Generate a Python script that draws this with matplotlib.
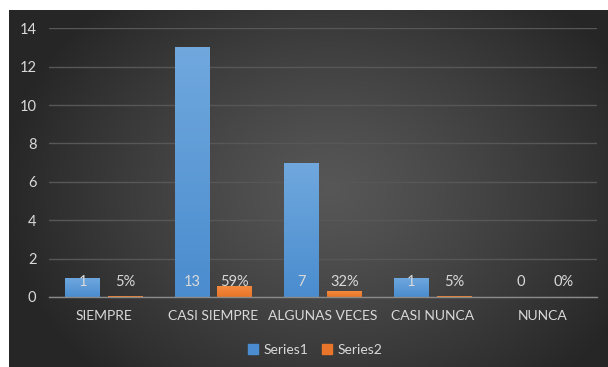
import numpy as np
import matplotlib.pyplot as plt
from matplotlib.patches import Rectangle

categorias = ["SIEMPRE", "CASI SIEMPRE", "ALGUNAS VECES", "CASI NUNCA", "NUNCA"]
series1 = [1, 13, 7, 1, 0]
series2 = [0.05, 0.59, 0.32, 0.05, 0.0]
etiquetas1 = ["1", "13", "7", "1", "0"]
etiquetas2 = ["5%", "59%", "32%", "5%", "0%"]
yticks = [0, 2, 4, 6, 8, 10, 12, 14]

plt.rcParams['font.family'] = ['Lato', 'DejaVu Sans']
gris_texto = "#d9d9d9"


def fondo(fig):
    # fondo oscuro con degradado radial, borde blanco arriba e izquierda
    W, H = 608, 367
    yy, xx = np.mgrid[0:H, 0:W]
    cx, cy = 330, 190
    r = np.sqrt(((xx - cx) / 330.0) ** 2 + ((yy - cy) / 260.0) ** 2)
    r = np.clip(r, 0, 1)
    v = 0.34 - (0.34 - 0.15) * r ** 1.2
    img = np.dstack([v, v, v])
    img[:10, :, :] = 1.0
    img[:, :9, :] = 1.0
    bg = fig.add_axes([0, 0, 1, 1], zorder=-5)
    bg.imshow(img, aspect='auto', extent=[0, 1, 0, 1], origin='upper')
    bg.axis('off')


def barra_degradado(ax, x, ancho, alto, claro, oscuro):
    if alto <= 0:
        return
    rect = Rectangle((x - ancho / 2, 0), ancho, alto, facecolor='none',
                     edgecolor='none')
    ax.add_patch(rect)
    grad = np.linspace(0, 1, 64).reshape(-1, 1)
    c1 = np.array(claro)
    c2 = np.array(oscuro)
    img = c2[None, None, :] * (1 - grad[..., None]) + c1[None, None, :] * grad[..., None]
    im = ax.imshow(img, extent=[x - ancho / 2, x + ancho / 2, 0, alto],
                   origin='lower', aspect='auto', zorder=3)
    im.set_clip_path(rect)


def main():
    fig = plt.figure(figsize=(6.08, 3.67), dpi=100)
    fondo(fig)

    ax = fig.add_axes([49 / 608, 70 / 367, 548 / 608, (297 - 28.3) / 367])
    ax.set_facecolor('none')

    x = np.arange(len(categorias))
    ancho = 0.315
    desp = 0.194

    azul_claro = (0.44, 0.66, 0.87)
    azul_oscuro = (0.29, 0.55, 0.81)
    nar_claro = (0.96, 0.55, 0.25)
    nar_oscuro = (0.91, 0.46, 0.16)

    for i in range(len(categorias)):
        barra_degradado(ax, x[i] - desp, ancho, series1[i], azul_claro, azul_oscuro)
        barra_degradado(ax, x[i] + desp, ancho, series2[i], nar_claro, nar_oscuro)
        ax.text(x[i] - desp, 0.8, etiquetas1[i], ha='center', va='center',
                color=gris_texto, fontsize=10.5, zorder=5)
        ax.text(x[i] + desp, 0.8, etiquetas2[i], ha='center', va='center',
                color=gris_texto, fontsize=10.5, zorder=5)

    ax.set_xlim(-0.5, len(categorias) - 0.5)
    ax.set_ylim(0, 14)
    ax.set_yticks(yticks)
    ax.set_xticks(x)
    ax.set_xticklabels(categorias)
    ax.tick_params(axis='both', length=0, colors=gris_texto)
    ax.tick_params(axis='x', pad=9, labelsize=10)
    ax.tick_params(axis='y', pad=9, labelsize=10.5)
    ax.grid(axis='y', color='#575757', linewidth=1)
    ax.set_axisbelow(True)
    for s in ['top', 'right', 'left']:
        ax.spines[s].set_visible(False)
    ax.spines['bottom'].set_color('#8a8a8a')
    ax.spines['bottom'].set_linewidth(1)
    ax.spines['bottom'].set_zorder(4)

    h1 = Rectangle((0, 0), 1, 1, color=azul_oscuro)
    h2 = Rectangle((0, 0), 1, 1, color=nar_oscuro)
    leg = fig.legend([h1, h2], ["Series1", "Series2"], loc='center',
                     bbox_to_anchor=(315 / 608, 1 - 350 / 367), ncol=2,
                     frameon=False, fontsize=10, handlelength=0.75,
                     handleheight=0.75, handletextpad=0.35, columnspacing=1.0)
    for t in leg.get_texts():
        t.set_color(gris_texto)

    fig.savefig("out.png", dpi=100)


if __name__ == '__main__':
    main()
